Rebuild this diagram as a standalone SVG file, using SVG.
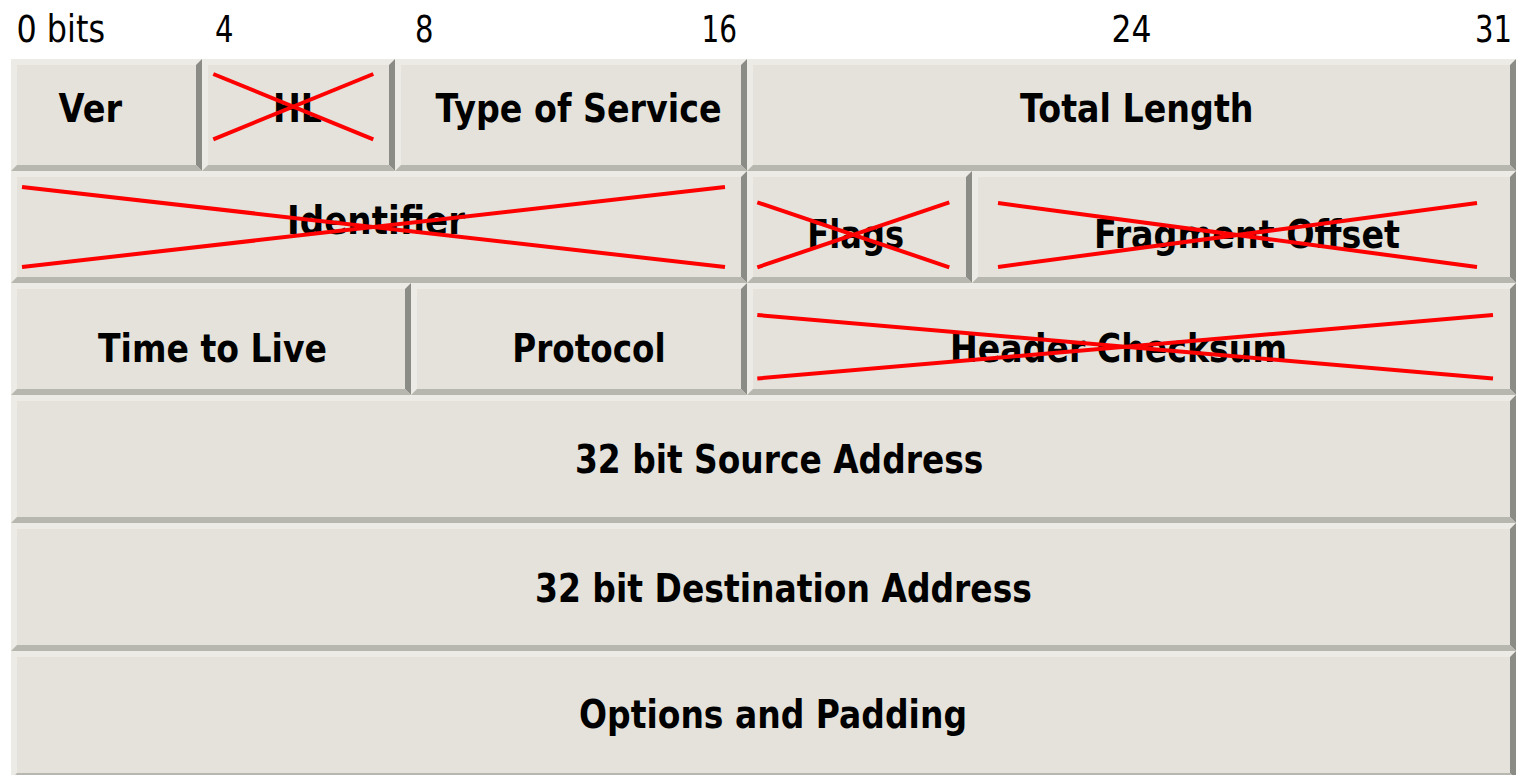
<svg xmlns="http://www.w3.org/2000/svg" width="1521" height="775" viewBox="0 0 1521 775">
<style>
.lt{fill:#ecebe5}
.dk{fill:#8c8c86}
.gy{fill:#b8b7af}
.fc{fill:#e4e2db}
.hd{font-family:"DejaVu Sans","Liberation Sans",sans-serif;font-size:36.5px;fill:#000}
.lb{font-family:"DejaVu Sans","Liberation Sans",sans-serif;font-size:39px;font-weight:bold;fill:#000}
.x{stroke:#ff0000;stroke-width:4;stroke-linecap:butt;fill:none}
</style>
<rect width="1521" height="775" fill="#ffffff"/>
<g id="header">
<text class="hd" x="16.5" y="41.7" textLength="88.5" lengthAdjust="spacingAndGlyphs">0 bits</text>
<text class="hd" x="215" y="41.7" textLength="18.5" lengthAdjust="spacingAndGlyphs">4</text>
<text class="hd" x="415" y="41.7" textLength="18.5" lengthAdjust="spacingAndGlyphs">8</text>
<text class="hd" x="701.5" y="41.7" textLength="35.5" lengthAdjust="spacingAndGlyphs">16</text>
<text class="hd" x="1111.5" y="41.7" textLength="40" lengthAdjust="spacingAndGlyphs">24</text>
<text class="hd" x="1475" y="41.7" textLength="37" lengthAdjust="spacingAndGlyphs">31</text>
</g>
<g id="ver">
<rect class="lt" x="11" y="59" width="191" height="112"/>
<polygon class="dk" points="202,59 202,171 196,165 196,65"/>
<polygon class="gy" points="11,171 202,171 196,165 17,165"/>
<rect class="fc" x="17" y="65" width="179" height="100"/>
<text class="lb" x="58.5" y="121.7" textLength="63.5" lengthAdjust="spacingAndGlyphs">Ver</text>
</g>
<g id="hl">
<rect class="lt" x="202" y="59" width="193" height="112"/>
<polygon class="dk" points="395,59 395,171 389,165 389,65"/>
<polygon class="gy" points="202,171 395,171 389,165 208,165"/>
<rect class="fc" x="208" y="65" width="181" height="100"/>
<text class="lb" x="273" y="121.7" textLength="49" lengthAdjust="spacingAndGlyphs">HL</text>
<line class="x" x1="213.3" y1="74" x2="373.3" y2="139.3"/>
<line class="x" x1="213.3" y1="139.3" x2="373.3" y2="74"/>
</g>
<g id="tos">
<rect class="lt" x="395" y="59" width="352" height="112"/>
<polygon class="dk" points="747,59 747,171 741,165 741,65"/>
<polygon class="gy" points="395,171 747,171 741,165 401,165"/>
<rect class="fc" x="401" y="65" width="340" height="100"/>
<text class="lb" x="435.5" y="121.7" textLength="286" lengthAdjust="spacingAndGlyphs">Type of Service</text>
</g>
<g id="total-length">
<rect class="lt" x="747" y="59" width="769" height="112"/>
<polygon class="dk" points="1516,59 1516,171 1510,165 1510,65"/>
<polygon class="gy" points="747,171 1516,171 1510,165 753,165"/>
<rect class="fc" x="753" y="65" width="757" height="100"/>
<text class="lb" x="1020" y="121.7" textLength="233.5" lengthAdjust="spacingAndGlyphs">Total Length</text>
</g>
<g id="identifier">
<rect class="lt" x="11" y="171" width="736" height="112"/>
<polygon class="dk" points="747,171 747,283 741,277 741,177"/>
<polygon class="gy" points="11,283 747,283 741,277 17,277"/>
<rect class="fc" x="17" y="177" width="724" height="100"/>
<text class="lb" x="287" y="234" textLength="178" lengthAdjust="spacingAndGlyphs">Identifier</text>
<line class="x" x1="22" y1="187" x2="725" y2="267"/>
<line class="x" x1="22" y1="267" x2="725" y2="187"/>
</g>
<g id="flags">
<rect class="lt" x="747" y="171" width="225" height="112"/>
<polygon class="dk" points="972,171 972,283 966,277 966,177"/>
<polygon class="gy" points="747,283 972,283 966,277 753,277"/>
<rect class="fc" x="753" y="177" width="213" height="100"/>
<text class="lb" x="807.3" y="248" textLength="96.7" lengthAdjust="spacingAndGlyphs">Flags</text>
<line class="x" x1="757.3" y1="202.3" x2="949.3" y2="267.3"/>
<line class="x" x1="757.3" y1="267.3" x2="949.3" y2="202.3"/>
</g>
<g id="fragment-offset">
<rect class="lt" x="972" y="171" width="544" height="112"/>
<polygon class="dk" points="1516,171 1516,283 1510,277 1510,177"/>
<polygon class="gy" points="972,283 1516,283 1510,277 978,277"/>
<rect class="fc" x="978" y="177" width="532" height="100"/>
<text class="lb" x="1094" y="248" textLength="306" lengthAdjust="spacingAndGlyphs">Fragment Offset</text>
<line class="x" x1="998" y1="203" x2="1477" y2="267"/>
<line class="x" x1="998" y1="267" x2="1477" y2="203"/>
</g>
<g id="ttl">
<rect class="lt" x="11" y="283" width="400" height="112"/>
<polygon class="dk" points="411,283 411,395 405,389 405,289"/>
<polygon class="gy" points="11,395 411,395 405,389 17,389"/>
<rect class="fc" x="17" y="289" width="388" height="100"/>
<text class="lb" x="98" y="361.7" textLength="229" lengthAdjust="spacingAndGlyphs">Time to Live</text>
</g>
<g id="protocol">
<rect class="lt" x="411" y="283" width="336" height="112"/>
<polygon class="dk" points="747,283 747,395 741,389 741,289"/>
<polygon class="gy" points="411,395 747,395 741,389 417,389"/>
<rect class="fc" x="417" y="289" width="324" height="100"/>
<text class="lb" x="512.3" y="361.7" textLength="153.4" lengthAdjust="spacingAndGlyphs">Protocol</text>
</g>
<g id="header-checksum">
<rect class="lt" x="747" y="283" width="769" height="112"/>
<polygon class="dk" points="1516,283 1516,395 1510,389 1510,289"/>
<polygon class="gy" points="747,395 1516,395 1510,389 753,389"/>
<rect class="fc" x="753" y="289" width="757" height="100"/>
<text class="lb" x="950" y="361.7" textLength="337" lengthAdjust="spacingAndGlyphs">Header Checksum</text>
<line class="x" x1="757.3" y1="315" x2="1493" y2="378.5"/>
<line class="x" x1="757.3" y1="378.5" x2="1493" y2="315"/>
</g>
<g id="source-address">
<rect class="lt" x="11" y="395" width="1505" height="128"/>
<polygon class="dk" points="1516,395 1516,523 1510,517 1510,401"/>
<polygon class="gy" points="11,523 1516,523 1510,517 17,517"/>
<rect class="fc" x="17" y="401" width="1493" height="116"/>
<text class="lb" x="575" y="473.3" textLength="408.3" lengthAdjust="spacingAndGlyphs">32 bit Source Address</text>
</g>
<g id="destination-address">
<rect class="lt" x="11" y="523" width="1505" height="128"/>
<polygon class="dk" points="1516,523 1516,651 1510,645 1510,529"/>
<polygon class="gy" points="11,651 1516,651 1510,645 17,645"/>
<rect class="fc" x="17" y="529" width="1493" height="116"/>
<text class="lb" x="535" y="601.5" textLength="497" lengthAdjust="spacingAndGlyphs">32 bit Destination Address</text>
</g>
<g id="options-padding">
<rect class="lt" x="11" y="651" width="1505" height="128"/>
<polygon class="dk" points="1516,651 1516,779 1510,773 1510,657"/>
<polygon class="gy" points="11,779 1516,779 1510,773 17,773"/>
<rect class="fc" x="17" y="657" width="1493" height="116"/>
<text class="lb" x="579" y="727.5" textLength="388" lengthAdjust="spacingAndGlyphs">Options and Padding</text>
</g>
</svg>
